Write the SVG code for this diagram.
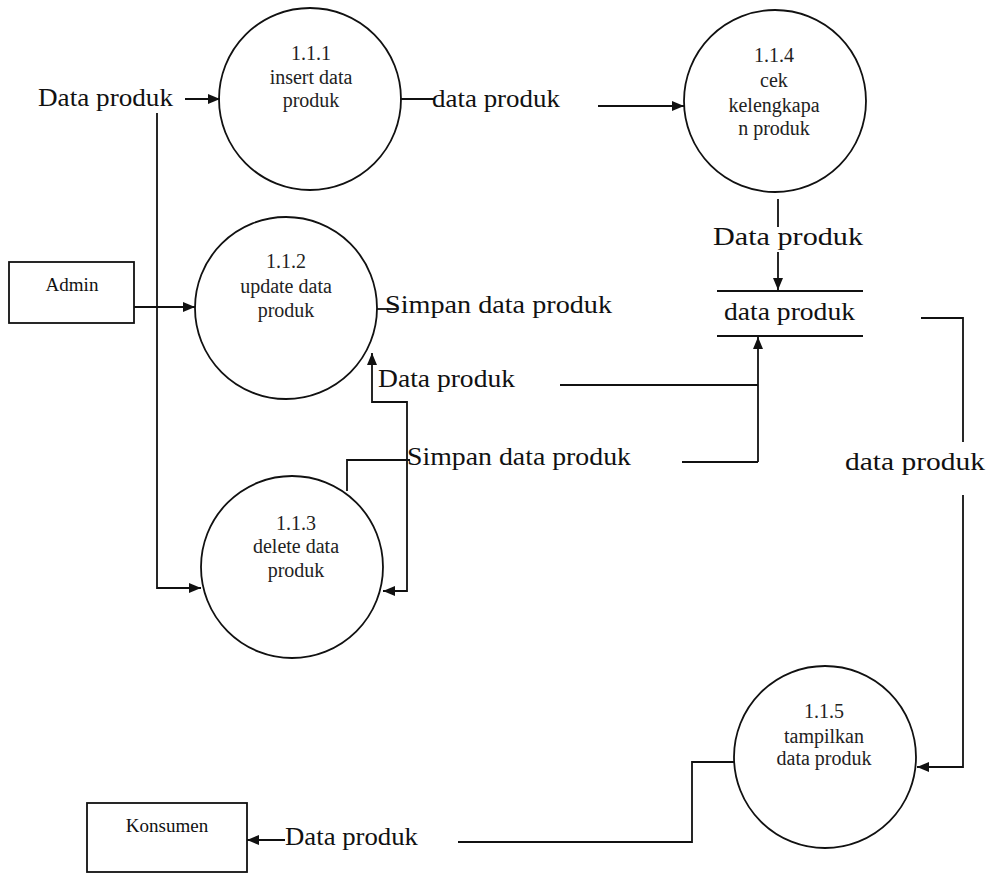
<svg xmlns="http://www.w3.org/2000/svg" width="994" height="875" viewBox="0 0 994 875">
<style>
.bg{fill:#fff}
.proc{fill:none;stroke:#111;stroke-width:1.8}
.ent{fill:none;stroke:#111;stroke-width:1.8}
.ln{fill:none;stroke:#111;stroke-width:1.8}
.pt{font-family:"Liberation Serif","Times New Roman",serif;font-size:20px;fill:#222;text-anchor:middle}
.lb{font-family:"Liberation Serif","Times New Roman",serif;font-size:25px;fill:#111}
.et{font-family:"Liberation Serif","Times New Roman",serif;font-size:19px;fill:#111;text-anchor:middle}
</style>
<defs>
<marker id="arr" viewBox="0 0 12 10" refX="12" refY="5" markerWidth="13" markerHeight="10" markerUnits="userSpaceOnUse" orient="auto-start-reverse">
<path d="M0,0 L12,5 L0,10 Z" fill="#111"/>
</marker>
</defs>
<rect class="bg" x="0" y="0" width="994" height="875"/>

<g id="p111">
<circle class="proc" cx="310" cy="99" r="91"/>
<text class="pt" x="311" y="60">1.1.1</text>
<text class="pt" x="311" y="84">insert data</text>
<text class="pt" x="311" y="107">produk</text>
</g>
<g id="p114">
<circle class="proc" cx="775" cy="101" r="91"/>
<text class="pt" x="774" y="62">1.1.4</text>
<text class="pt" x="774" y="87">cek</text>
<text class="pt" x="774" y="112">kelengkapa</text>
<text class="pt" x="774" y="135">n produk</text>
</g>
<g id="p112">
<circle class="proc" cx="286" cy="308" r="91"/>
<text class="pt" x="286" y="268">1.1.2</text>
<text class="pt" x="286" y="293">update data</text>
<text class="pt" x="286" y="317">produk</text>
</g>
<g id="p113">
<circle class="proc" cx="292" cy="567" r="91"/>
<text class="pt" x="296" y="530">1.1.3</text>
<text class="pt" x="296" y="553">delete data</text>
<text class="pt" x="296" y="577">produk</text>
</g>
<g id="p115">
<circle class="proc" cx="825" cy="757" r="91"/>
<text class="pt" x="824" y="718">1.1.5</text>
<text class="pt" x="824" y="743">tampilkan</text>
<text class="pt" x="824" y="765">data produk</text>
</g>
<g id="admin">
<rect class="ent" x="9" y="262" width="125" height="61"/>
<text class="et" x="72" y="291">Admin</text>
</g>
<g id="konsumen">
<rect class="ent" x="87" y="803" width="160" height="69"/>
<text class="et" x="167" y="832">Konsumen</text>
</g>
<g id="store">
<line class="ln" x1="717" y1="291" x2="863" y2="291"/>
<line class="ln" x1="717" y1="336" x2="863" y2="336"/>
<text class="lb" x="724" y="320" textLength="131" lengthAdjust="spacingAndGlyphs">data produk</text>
</g>

<g id="connectors">
<path class="ln" d="M185,99 L220,99" marker-end="url(#arr)"/>
<path class="ln" d="M157,113 L157,588 L201,588" marker-end="url(#arr)"/>
<path class="ln" d="M134,307 L195,307" marker-end="url(#arr)"/>
<path class="ln" d="M400,99 L434,99"/>
<path class="ln" d="M598,106 L684,106" marker-end="url(#arr)"/>
<path class="ln" d="M778,199 L778,227"/>
<path class="ln" d="M778,252 L778,290" marker-end="url(#arr)"/>
<path class="ln" d="M921,318 L963,318 L963,442"/>
<path class="ln" d="M963,495 L963,767 L917,767" marker-end="url(#arr)"/>
<path class="ln" d="M734,762 L692,762 L692,842 L458,842"/>
<path class="ln" d="M285,840 L247,840" marker-end="url(#arr)"/>
<path class="ln" d="M377,309 L398,309"/>
<path class="ln" d="M758,462 L758,337" marker-end="url(#arr)"/>
<path class="ln" d="M560,385 L758,385"/>
<path class="ln" d="M682,462 L758,462"/>
<path class="ln" d="M383,591 L407,591 L407,402 L372,402 L372,353" marker-start="url(#arr)" marker-end="url(#arr)"/>
<path class="ln" d="M347,491 L347,460 L410,460"/>

<text class="lb" x="38" y="106" textLength="135" lengthAdjust="spacingAndGlyphs">Data produk</text>
<text class="lb" x="432" y="107" textLength="128" lengthAdjust="spacingAndGlyphs">data produk</text>
<text class="lb" x="713" y="245" font-size="27" textLength="150" lengthAdjust="spacingAndGlyphs">Data produk</text>
<text class="lb" x="385" y="313" textLength="227" lengthAdjust="spacingAndGlyphs">Simpan data produk</text>
<text class="lb" x="378" y="387" textLength="137" lengthAdjust="spacingAndGlyphs">Data produk</text>
<text class="lb" x="407" y="465" textLength="224" lengthAdjust="spacingAndGlyphs">Simpan data produk</text>
<text class="lb" x="845" y="470" textLength="140" lengthAdjust="spacingAndGlyphs">data produk</text>
<text class="lb" x="285" y="845" textLength="133" lengthAdjust="spacingAndGlyphs">Data produk</text>
</g>
</svg>
